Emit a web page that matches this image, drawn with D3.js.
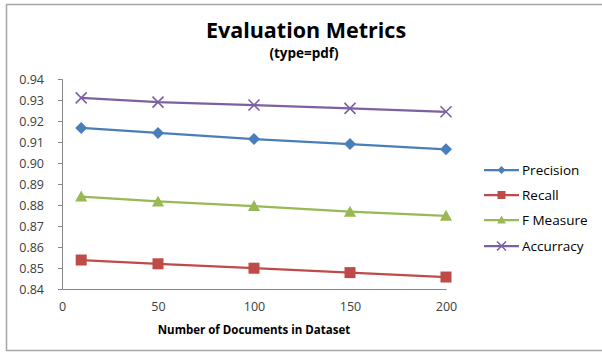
<!DOCTYPE html>
<html>
<head>
<meta charset="utf-8">
<script src="https://cdn.jsdelivr.net/npm/d3@7"></script>
<style>
  html, body { margin: 0; padding: 0; background: #fff; }
  svg { display: block; font-family: "Open Sans", Lato, sans-serif; }
</style>
</head>
<body>
<svg id="chart" width="602" height="352"></svg>
<script>
// Number of documents in the dataset
const docCounts = [10, 50, 100, 150, 200];

// Metric values per document count
const precision = [0.9167, 0.9143, 0.9114, 0.9090, 0.9065];
const recall    = [0.8538, 0.8520, 0.8499, 0.8478, 0.8457];
const fMeasure  = [0.8840, 0.8817, 0.8795, 0.8768, 0.8748];
const accurracy = [0.9310, 0.9290, 0.9276, 0.9260, 0.9244];

// Axis tick labels
const xTicks = [0, 50, 100, 150, 200];
const yTicks = [0.84, 0.85, 0.86, 0.87, 0.88, 0.89, 0.90, 0.91, 0.92, 0.93, 0.94];

const seriesNames = ["Precision", "Recall", "F Measure", "Accurracy"];

const series = [
  { name: seriesNames[0], values: precision, color: "#4A7EBB", marker: "diamond" },
  { name: seriesNames[1], values: recall,    color: "#BE4B48", marker: "square" },
  { name: seriesNames[2], values: fMeasure,  color: "#98B954", marker: "triangle" },
  { name: seriesNames[3], values: accurracy, color: "#7D60A0", marker: "cross" }
];

const svg = d3.select("#chart");

// Outer chart frame
svg.append("rect")
  .attr("x", 6.5).attr("y", 4.5)
  .attr("width", 605).attr("height", 346)
  .attr("fill", "#fff")
  .attr("stroke", "#a6a6a6").attr("stroke-width", 1.5);

const plot = { left: 62, right: 446, top: 79, bottom: 289 };

const x = d3.scaleLinear().domain([0, 200]).range([plot.left, plot.right]);
const y = d3.scaleLinear().domain([0.84, 0.94]).range([plot.bottom, plot.top]);

// Titles
svg.append("text")
  .attr("x", 306).attr("y", 38)
  .attr("text-anchor", "middle")
  .attr("font-size", 21.5).attr("font-weight", "bold")
  .attr("fill", "#000")
  .text("Evaluation Metrics");

svg.append("text")
  .attr("x", 304).attr("y", 58)
  .attr("text-anchor", "middle")
  .attr("font-size", 13.5).attr("font-weight", "bold")
  .attr("fill", "#000")
  .text("(type=pdf)");

// Y axis
const yAxis = d3.axisLeft(y)
  .tickValues(yTicks)
  .tickSize(4)
  .tickPadding(14)
  .tickFormat(d3.format(".2f"));

const gy = svg.append("g")
  .attr("transform", `translate(${plot.left},0)`)
  .call(yAxis);
gy.select(".domain").attr("stroke", "#868686");
gy.selectAll(".tick line").attr("stroke", "#868686");
gy.selectAll(".tick text")
  .attr("font-size", 12.5).attr("fill", "#404040")
  .attr("font-family", "'Open Sans', sans-serif");

// X axis
const xAxis = d3.axisBottom(x)
  .tickValues(xTicks)
  .tickSize(0)
  .tickPadding(13)
  .tickFormat(d3.format("d"));

const gx = svg.append("g")
  .attr("transform", `translate(0,${plot.bottom})`)
  .call(xAxis);
gx.select(".domain").attr("stroke", "#868686");
gx.selectAll(".tick text")
  .attr("font-size", 12.5).attr("fill", "#404040")
  .attr("font-family", "'Open Sans', sans-serif");

// X axis title
svg.append("text")
  .attr("x", 254).attr("y", 334)
  .attr("text-anchor", "middle")
  .attr("font-size", 11.5).attr("font-weight", "bold")
  .attr("fill", "#000")
  .text("Number of Documents in Dataset");

// Marker drawing helper
function drawMarker(g, type, cx, cy, color, s) {
  if (type === "diamond") {
    g.append("path")
      .attr("d", `M${cx},${cy - s}L${cx + s},${cy}L${cx},${cy + s}L${cx - s},${cy}Z`)
      .attr("fill", color);
  } else if (type === "square") {
    g.append("rect")
      .attr("x", cx - s).attr("y", cy - s)
      .attr("width", 2 * s).attr("height", 2 * s)
      .attr("fill", color);
  } else if (type === "triangle") {
    g.append("path")
      .attr("d", `M${cx},${cy - s * 1.1}L${cx + s * 1.1},${cy + s * 0.9}L${cx - s * 1.1},${cy + s * 0.9}Z`)
      .attr("fill", color);
  } else if (type === "cross") {
    g.append("path")
      .attr("d", `M${cx - s},${cy - s}L${cx + s},${cy + s}M${cx - s},${cy + s}L${cx + s},${cy - s}`)
      .attr("stroke", color).attr("stroke-width", 1.6).attr("fill", "none");
  }
}

const line = d3.line()
  .x(d => x(d[0]))
  .y(d => y(d[1]));

// Series lines and markers
series.forEach(s => {
  const pts = docCounts.map((c, i) => [c, s.values[i]]);
  const g = svg.append("g");
  g.append("path")
    .datum(pts)
    .attr("d", line)
    .attr("fill", "none")
    .attr("stroke", s.color)
    .attr("stroke-width", 2.25);
  pts.forEach(p => {
    drawMarker(g, s.marker, x(p[0]), y(p[1]), s.color, s.marker === "diamond" ? 6 : 5.5);
  });
});

// Legend
const legendRows = [170, 195, 220, 246];
series.forEach((s, i) => {
  const g = svg.append("g");
  const ly = legendRows[i];
  g.append("line")
    .attr("x1", 484).attr("x2", 519)
    .attr("y1", ly).attr("y2", ly)
    .attr("stroke", s.color).attr("stroke-width", 2.25);
  drawMarker(g, s.marker, 501.5, ly, s.color, s.marker === "cross" ? 4.5 : 4);
  g.append("text")
    .attr("x", 522).attr("y", ly + 5)
    .attr("font-size", 13.5).attr("fill", "#000")
    .text(s.name);
});
</script>
</body>
</html>
